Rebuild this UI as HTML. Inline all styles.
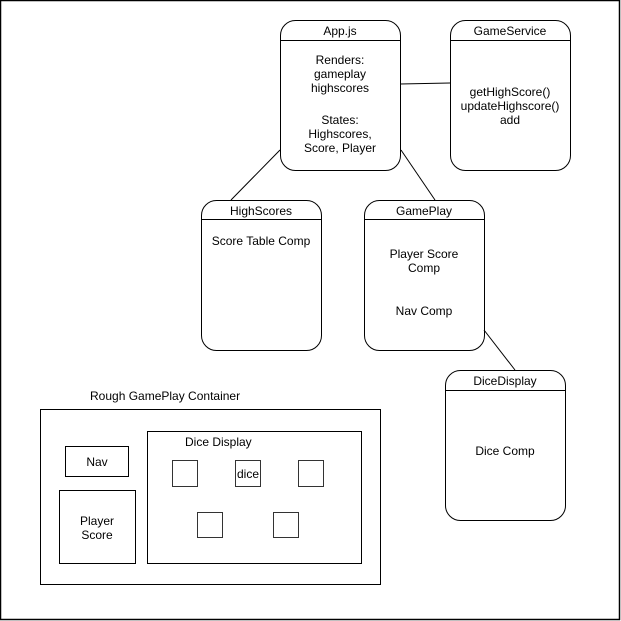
<!DOCTYPE html>
<html><head><style>
html,body{margin:0;padding:0;background:#fff}
svg{display:block}
text{font-family:"Liberation Sans",Helvetica,sans-serif;font-size:12px;fill:#000}
</style></head><body>
<svg width="621" height="621" viewBox="0 0 621 621" xmlns="http://www.w3.org/2000/svg">
<rect x="0.5" y="0.5" width="619" height="619" fill="#fff" stroke="#000" stroke-width="1.5"/>
<g fill="none" stroke="#000" stroke-width="1">
<line x1="400" y1="84" x2="450" y2="83"/>
<line x1="280" y1="150" x2="231" y2="200"/>
<line x1="401" y1="150" x2="435" y2="200"/>
<line x1="484" y1="330" x2="515" y2="370"/>
<rect x="280.5" y="20.5" width="120" height="150" rx="15"/>
<line x1="280.5" y1="40.5" x2="400.5" y2="40.5"/>
<rect x="450.5" y="20.5" width="120" height="150" rx="15"/>
<line x1="450.5" y1="40.5" x2="570.5" y2="40.5"/>
<rect x="201.5" y="200.5" width="120" height="150" rx="15"/>
<line x1="201.5" y1="219.5" x2="321.5" y2="219.5"/>
<rect x="364.5" y="200.5" width="120" height="150" rx="15"/>
<line x1="364.5" y1="219.5" x2="484.5" y2="219.5"/>
<rect x="445.5" y="370.5" width="120" height="150" rx="15"/>
<line x1="445.5" y1="390.5" x2="565.5" y2="390.5"/>
<rect x="40.5" y="409.5" width="340" height="175"/>
<rect x="147.5" y="431.5" width="214" height="132"/>
<rect x="65.5" y="446.5" width="63" height="30"/>
<rect x="59.5" y="490.5" width="76" height="73"/>
<g stroke="#333">
<rect x="172.5" y="460.5" width="25" height="26"/>
<rect x="235.5" y="460.5" width="25" height="26"/>
<rect x="298.5" y="460.5" width="25" height="26"/>
<rect x="197.5" y="512.5" width="25" height="25"/>
<rect x="273.5" y="512.5" width="25" height="25"/>
</g>
</g>
<g text-anchor="middle">
<text x="340" y="35">App.js</text>
<text x="340" y="64">Renders:</text>
<text x="340" y="78">gameplay</text>
<text x="340" y="92">highscores</text>
<text x="340" y="124">States:</text>
<text x="340" y="138">Highscores,</text>
<text x="340" y="152">Score, Player</text>
<text x="510" y="35">GameService</text>
<text x="510" y="96">getHighScore()</text>
<text x="510" y="110">updateHighscore()</text>
<text x="510" y="124">add</text>
<text x="261" y="215">HighScores</text>
<text x="261" y="245">Score Table Comp</text>
<text x="424" y="215">GamePlay</text>
<text x="424" y="258">Player Score</text>
<text x="424" y="272">Comp</text>
<text x="424" y="315">Nav Comp</text>
<text x="505" y="385">DiceDisplay</text>
<text x="505" y="455">Dice Comp</text>
<text x="97" y="466">Nav</text>
<text x="97" y="525">Player</text>
<text x="97" y="539">Score</text>
<text x="248" y="478">dice</text>
</g>
<text x="90" y="400">Rough GamePlay Container</text>
<text x="185" y="446">Dice Display</text>
</svg>
</body></html>
